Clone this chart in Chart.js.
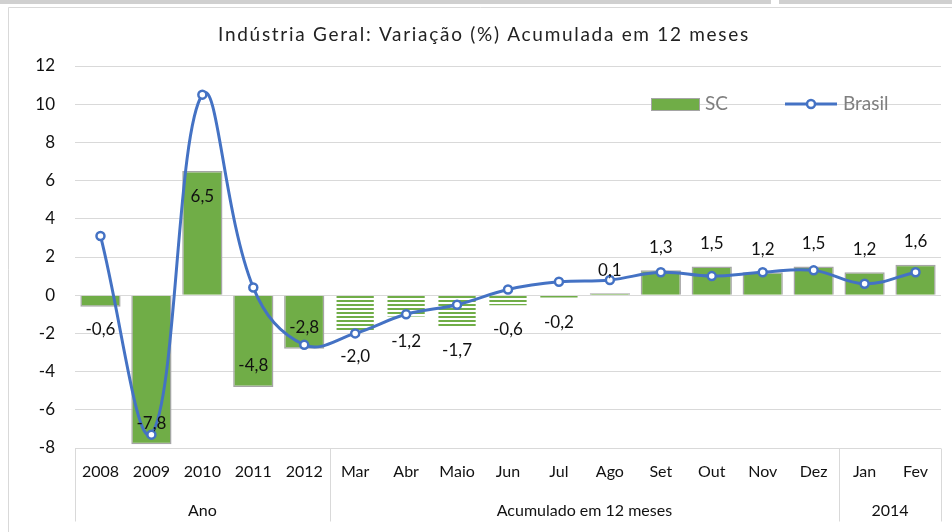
<!DOCTYPE html>
<html>
<head>
<meta charset="utf-8">
<script src="https://cdn.jsdelivr.net/npm/chart.js@4/dist/chart.umd.min.js"></script>
<style>
  html, body { margin: 0; padding: 0; background: #fff; }
  #wrap { width: 952px; height: 532px; }
</style>
</head>
<body>
<div id="wrap"><canvas id="chart" width="952" height="532"></canvas></div>
<script>
// data
const categories = ['2008', '2009', '2010', '2011', '2012', 'Mar', 'Abr', 'Maio', 'Jun', 'Jul', 'Ago', 'Set', 'Out', 'Nov', 'Dez', 'Jan', 'Fev'];
const groupLabels = ['Ano', 'Acumulado em 12 meses', '2014'];
const groupSizes = [5, 10, 2];
const scValues = [-0.6, -7.8, 6.5, -4.8, -2.8, -2.0, -1.2, -1.7, -0.6, -0.2, 0.1, 1.3, 1.5, 1.2, 1.5, 1.2, 1.6];
const brasilValues = [3.1, -7.3, 10.5, 0.4, -2.6, -2.0, -1.0, -0.5, 0.3, 0.7, 0.8, 1.2, 1.0, 1.2, 1.3, 0.6, 1.2];
const stripedCategories = ['Mar', 'Abr', 'Maio', 'Jun', 'Jul'];
const yMin = -8, yMax = 12, yStep = 2;
const titleText = 'Indústria Geral: Variação (%) Acumulada em 12 meses';

const GREEN = '#70AD47';
const BLUE = '#4472C4';
const GRID = '#d9d9d9';
const FONT = 'Lato, "Open Sans", sans-serif';

// horizontal stripe pattern for the hatched bars
function makeStripes() {
    const c = document.createElement('canvas');
    c.width = 4;
    c.height = 4;
    const g = c.getContext('2d');
    g.fillStyle = '#fff';
    g.fillRect(0, 0, 4, 4);
    g.fillStyle = GREEN;
    g.fillRect(0, 0, 4, 2);
    return g.createPattern(c, 'repeat');
}

const ctx = document.getElementById('chart').getContext('2d');
const stripes = makeStripes();
const barFill = categories.map(c => stripedCategories.includes(c) ? stripes : GREEN);
const barBorder = categories.map(c => stripedCategories.includes(c) ? 'rgba(0,0,0,0)' : '#A5A5A5');

const fmt = v => v.toFixed(1).replace('.', ',');

const decor = {
    id: 'decor',
    beforeDraw(chart) {
        const g = chart.ctx;
        g.save();
        g.fillStyle = '#fff';
        g.fillRect(0, 0, chart.width, chart.height);
        // outer frame bits
        g.fillStyle = '#d0d0d0';
        g.fillRect(0, 0, 771, 4);
        g.fillRect(779, 0, chart.width - 779, 4);
        g.strokeStyle = '#d9d9d9';
        g.lineWidth = 1;
        g.beginPath();
        g.moveTo(8.5, chart.height);
        g.lineTo(8.5, 7.5);
        g.lineTo(chart.width, 7.5);
        g.stroke();
        g.restore();
    },
    afterDatasetsDraw(chart) {
        // value labels for SC bars
        const g = chart.ctx;
        const meta = chart.getDatasetMeta(1);
        g.save();
        g.font = '17px ' + FONT;
        g.fillStyle = '#111';
        g.textAlign = 'center';
        g.textBaseline = 'middle';
        meta.data.forEach((bar, i) => {
            const v = scValues[i];
            const inside = Math.abs(v) > 2.5;
            let y;
            if (v >= 0) y = inside ? bar.y + 25 : bar.y - 23;
            else y = inside ? bar.y - 21 : bar.y + 23;
            g.fillText(fmt(v), bar.x, y);
        });
        g.restore();
    },
    afterDraw(chart) {
        const g = chart.ctx;
        const area = chart.chartArea;
        const xs = chart.scales.x;
        g.save();

        // title
        g.font = '19px ' + FONT;
        g.fillStyle = '#222';
        g.textAlign = 'center';
        g.textBaseline = 'middle';
        g.letterSpacing = '1.7px';
        g.fillText(titleText, 484, 35);
        g.letterSpacing = '0px';

        // legend
        g.fillStyle = GREEN;
        g.fillRect(651, 98, 49, 12);
        g.strokeStyle = '#A5A5A5';
        g.lineWidth = 1;
        g.strokeRect(651.5, 98.5, 48, 12);
        g.font = '19px ' + FONT;
        g.fillStyle = '#7f7f7f';
        g.textAlign = 'left';
        g.fillText('SC', 705, 104);
        g.strokeStyle = BLUE;
        g.lineWidth = 3;
        g.beginPath();
        g.moveTo(785, 104);
        g.lineTo(837, 104);
        g.stroke();
        g.beginPath();
        g.arc(811, 104, 4, 0, Math.PI * 2);
        g.fillStyle = '#fff';
        g.fill();
        g.lineWidth = 2.5;
        g.stroke();
        g.fillStyle = '#7f7f7f';
        g.fillText('Brasil', 843, 104);

        // two level category axis
        const step = (area.right - area.left) / categories.length;
        const top = Math.round(area.bottom) + 0.5;
        g.strokeStyle = GRID;
        g.lineWidth = 1;
        g.beginPath();
        g.moveTo(area.left, top);
        g.lineTo(area.right, top);
        let idx = 0;
        const bounds = [0];
        groupSizes.forEach(n => { idx += n; bounds.push(idx); });
        bounds.forEach(b => {
            const x = Math.round(area.left + b * step) + 0.5;
            g.moveTo(x, top);
            g.lineTo(x, top + 73);
        });
        g.stroke();

        g.font = '16px ' + FONT;
        g.fillStyle = '#111';
        g.textAlign = 'center';
        categories.forEach((c, i) => {
            g.fillText(c, xs.getPixelForValue(i), top + 23);
        });
        let start = 0;
        groupLabels.forEach((lab, k) => {
            const mid = area.left + (start + groupSizes[k] / 2) * step;
            g.fillText(lab, mid, top + 62);
            start += groupSizes[k];
        });
        g.restore();
    }
};

new Chart(ctx, {
    data: {
        labels: categories,
        datasets: [{
            type: 'line',
            label: 'Brasil',
            data: brasilValues,
            borderColor: BLUE,
            borderWidth: 3,
            tension: 0.4,
            pointRadius: 4,
            pointBorderWidth: 2.5,
            pointBackgroundColor: '#fff',
            pointBorderColor: BLUE,
            order: 0
        }, {
            type: 'bar',
            label: 'SC',
            data: scValues,
            backgroundColor: barFill,
            borderColor: barBorder,
            borderWidth: 1.5,
            barPercentage: 0.79,
            categoryPercentage: 1,
            order: 1
        }]
    },
    options: {
        responsive: false,
        animation: false,
        layout: {
            padding: { top: 66, right: 11, bottom: 84, left: 0 }
        },
        plugins: {
            legend: { display: false },
            title: { display: false },
            tooltip: { enabled: false }
        },
        scales: {
            x: {
                display: false
            },
            y: {
                min: yMin,
                max: yMax,
                afterFit(scale) { scale.width = 75; },
                ticks: {
                    stepSize: yStep,
                    padding: 20,
                    color: '#111',
                    font: { family: FONT, size: 17 }
                },
                grid: {
                    color: GRID,
                    lineWidth: 1,
                    drawTicks: false
                },
                border: { display: false }
            }
        }
    },
    plugins: [decor]
});
</script>
</body>
</html>
